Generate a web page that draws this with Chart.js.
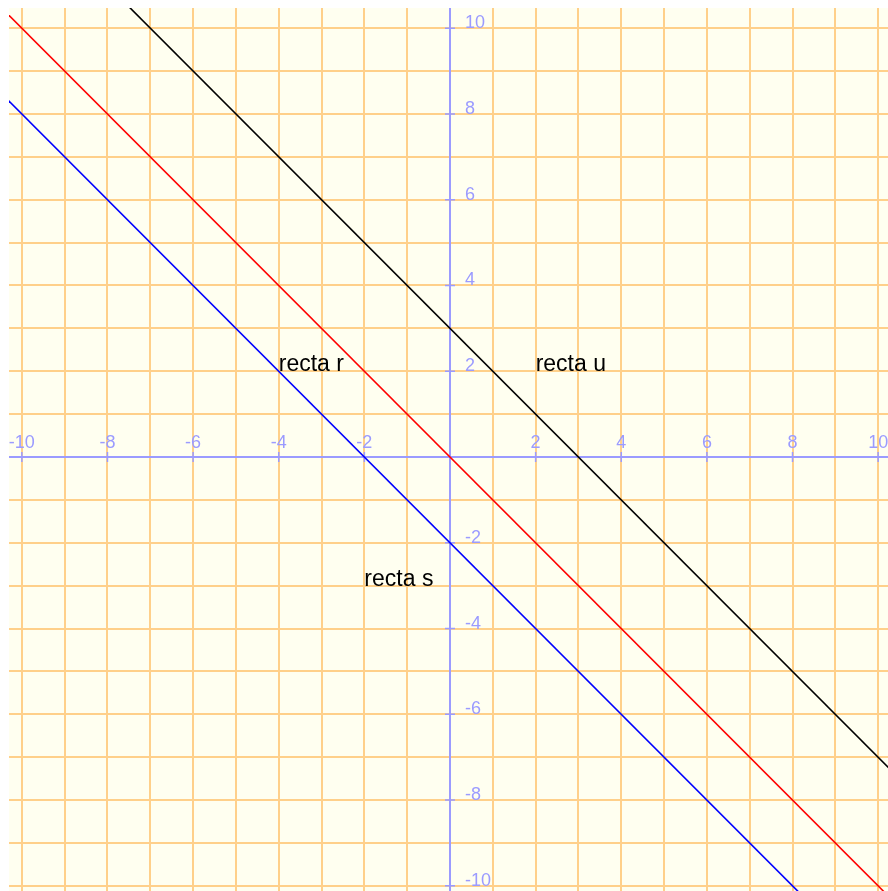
<!DOCTYPE html>
<html>
<head>
<meta charset="utf-8">
<script src="https://cdn.jsdelivr.net/npm/chart.js@4.4.1/dist/chart.umd.min.js"></script>
<style>
html,body{margin:0;padding:0;background:#fff;}
#wrap{width:888px;height:891px;}
</style>
</head>
<body>
<div id="wrap"><canvas id="c" width="888" height="891"></canvas></div>
<script>
// Data
const lineX = [-11, 11];
const rectaR = [11, -11];   // y = -x
const rectaS = [9, -13];    // y = -x - 2
const rectaU = [14, -8];    // y = -x + 3
const labelNames = ['recta r', 'recta u', 'recta s'];
const labelX = [-4, 2, -2];
const labelY = [2, 2, -3];
const xTickLabels = [-10, -8, -6, -4, -2, 2, 4, 6, 8, 10];
const yTickLabels = [10, 8, 6, 4, 2, -2, -4, -6, -8, -10];
const gridValues = [];
for (let v = -10; v <= 10; v++) gridValues.push(v);

const mk = (ys) => lineX.map((x, i) => ({x: x, y: ys[i]}));

const AXIS_COLOR = '#9b9bff';

const decor = {
  id: 'decor',
  beforeDraw(chart) {
    const {ctx, chartArea: a} = chart;
    ctx.save();
    ctx.fillStyle = '#fffff0';
    ctx.fillRect(a.left, a.top, a.right - a.left, a.bottom - a.top);
    ctx.restore();
  },
  beforeDatasetsDraw(chart) {
    const {ctx, chartArea: a, scales: {x, y}} = chart;
    const x0 = x.getPixelForValue(0), y0 = y.getPixelForValue(0);
    ctx.save();
    ctx.strokeStyle = AXIS_COLOR;
    ctx.lineWidth = 2;
    ctx.beginPath();
    ctx.moveTo(a.left, y0); ctx.lineTo(a.right, y0);
    ctx.moveTo(x0, a.top); ctx.lineTo(x0, a.bottom);
    ctx.stroke();
    ctx.lineWidth = 1.5;
    ctx.beginPath();
    xTickLabels.forEach(v => { const px = x.getPixelForValue(v); ctx.moveTo(px, y0 - 5); ctx.lineTo(px, y0 + 5); });
    yTickLabels.forEach(v => { const py = y.getPixelForValue(v); ctx.moveTo(x0 - 5, py); ctx.lineTo(x0 + 5, py); });
    ctx.stroke();
    ctx.fillStyle = AXIS_COLOR;
    ctx.font = '18px "Liberation Sans", Arial, sans-serif';
    ctx.textBaseline = 'alphabetic';
    ctx.textAlign = 'center';
    xTickLabels.forEach(v => {
      ctx.fillText(String(v), x.getPixelForValue(v), y0 - 9);
    });
    ctx.textAlign = 'left';
    yTickLabels.forEach(v => {
      ctx.fillText(String(v), x0 + 15, y.getPixelForValue(v));
    });
    ctx.restore();
  },
  afterDatasetsDraw(chart) {
    const {ctx, scales: {x, y}} = chart;
    ctx.save();
    ctx.fillStyle = '#000';
    ctx.font = '23px "Liberation Sans", Arial, sans-serif';
    ctx.textAlign = 'left';
    ctx.textBaseline = 'alphabetic';
    labelNames.forEach((t, i) => {
      ctx.fillText(t, x.getPixelForValue(labelX[i]), y.getPixelForValue(labelY[i]));
    });
    ctx.restore();
  }
};

const gridOpts = {color: '#ffd08a', lineWidth: 2, drawTicks: false};

new Chart(document.getElementById('c'), {
  type: 'scatter',
  data: {
    datasets: [
      {label: 'recta u', data: mk(rectaU), borderColor: '#000000', showLine: true, pointRadius: 0, borderWidth: 1.6},
      {label: 'recta r', data: mk(rectaR), borderColor: '#ff0000', showLine: true, pointRadius: 0, borderWidth: 1.6},
      {label: 'recta s', data: mk(rectaS), borderColor: '#0000ff', showLine: true, pointRadius: 0, borderWidth: 1.6}
    ]
  },
  options: {
    responsive: false,
    animation: false,
    events: [],
    layout: {padding: {left: 9, top: 8, right: 0, bottom: 0}},
    plugins: {legend: {display: false}, tooltip: {enabled: false}},
    scales: {
      x: {
        type: 'linear', min: -10.30, max: 10.23,
        ticks: {display: false},
        grid: gridOpts,
        border: {display: false},
        afterBuildTicks: s => { s.ticks = gridValues.map(v => ({value: v})); }
      },
      y: {
        type: 'linear', min: -10.12, max: 10.47,
        ticks: {display: false},
        grid: gridOpts,
        border: {display: false},
        afterBuildTicks: s => { s.ticks = gridValues.map(v => ({value: v})); }
      }
    }
  },
  plugins: [decor]
});
</script>
</body>
</html>
